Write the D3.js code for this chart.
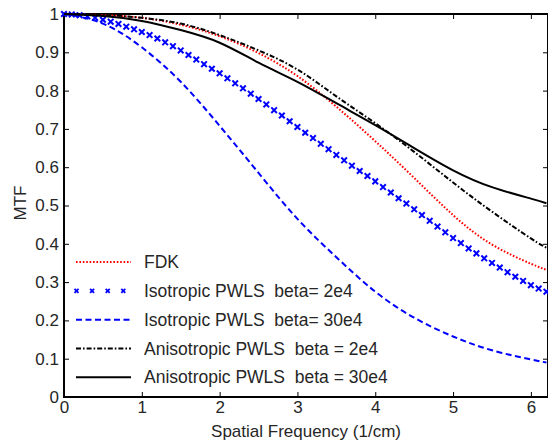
<!DOCTYPE html>
<html>
<head>
<meta charset="utf-8">
<script src="https://cdn.jsdelivr.net/npm/d3@7"></script>
<style>
  body { margin: 0; background: #fff; }
  text { font-family: "Liberation Sans", Arial, sans-serif; }
</style>
</head>
<body>
<div id="mtf_chart"></div>
<script>
// frequency samples for the line curves (1/cm)
const freq = [0, 0.5, 1, 1.5, 2, 2.5, 3, 3.5, 4, 4.5, 5, 5.5, 6, 6.2];

const fdk       = [1.000, 0.997, 0.990, 0.972, 0.942, 0.898, 0.838, 0.758, 0.668, 0.572, 0.475, 0.398, 0.348, 0.332];
const iso30e4   = [1.000, 0.975, 0.913, 0.823, 0.708, 0.585, 0.465, 0.365, 0.275, 0.207, 0.158, 0.122, 0.098, 0.090];
const aniso2e4  = [1.000, 0.998, 0.990, 0.975, 0.945, 0.905, 0.855, 0.785, 0.715, 0.640, 0.560, 0.484, 0.414, 0.390];
const aniso30e4 = [1.000, 0.995, 0.982, 0.958, 0.925, 0.873, 0.823, 0.767, 0.710, 0.650, 0.592, 0.548, 0.518, 0.506];

// isotropic beta=2e4 is drawn with markers only, one every 0.1
const markerFreq = [0.0, 0.1, 0.2, 0.3, 0.4, 0.5, 0.6, 0.7, 0.8, 0.9,
                    1.0, 1.1, 1.2, 1.3, 1.4, 1.5, 1.6, 1.7, 1.8, 1.9,
                    2.0, 2.1, 2.2, 2.3, 2.4, 2.5, 2.6, 2.7, 2.8, 2.9,
                    3.0, 3.1, 3.2, 3.3, 3.4, 3.5, 3.6, 3.7, 3.8, 3.9,
                    4.0, 4.1, 4.2, 4.3, 4.4, 4.5, 4.6, 4.7, 4.8, 4.9,
                    5.0, 5.1, 5.2, 5.3, 5.4, 5.5, 5.6, 5.7, 5.8, 5.9,
                    6.0, 6.1, 6.2];
const iso2e4 = [1.000, 0.999, 0.997, 0.994, 0.990, 0.985, 0.980, 0.974, 0.967, 0.960,
                0.953, 0.945, 0.936, 0.926, 0.916, 0.905, 0.893, 0.881, 0.869, 0.857,
                0.845, 0.832, 0.819, 0.806, 0.792, 0.778, 0.764, 0.749, 0.735, 0.720,
                0.705, 0.690, 0.676, 0.661, 0.647, 0.632, 0.618, 0.604, 0.590, 0.577,
                0.563, 0.548, 0.534, 0.519, 0.505, 0.490, 0.475, 0.460, 0.445, 0.430,
                0.415, 0.402, 0.388, 0.375, 0.362, 0.350, 0.338, 0.326, 0.314, 0.303,
                0.292, 0.283, 0.275];

const legendLabels = [
  "FDK",
  "Isotropic PWLS  beta= 2e4",
  "Isotropic PWLS  beta= 30e4",
  "Anisotropic PWLS  beta = 2e4",
  "Anisotropic PWLS  beta = 30e4"
];

const xTicks = [0, 1, 2, 3, 4, 5, 6];
const yTicks = [0, 0.1, 0.2, 0.3, 0.4, 0.5, 0.6, 0.7, 0.8, 0.9, 1];

function drawChart(){
  const width = 548, height = 445;
  const margin = {top: 14, right: 0, bottom: 48, left: 64};
  const visWidth = width - margin.left - margin.right;
  const visHeight = height - margin.top - margin.bottom;

  const x = d3.scaleLinear().domain([0, 6.22]).range([0, visWidth]);
  const y = d3.scaleLinear().domain([0, 1]).range([visHeight, 0]);

  const svg = d3.select("#mtf_chart").append("svg")
      .attr("width", width)
      .attr("height", height);

  const g = svg.append("g")
      .attr("transform", `translate(${margin.left}, ${margin.top})`);

  const textColor = "#262626";
  const fontSize = "17px";
  const tickLen = 5;

  // axes, ticks pointing inwards on all four sides
  const xAxis = d3.axisBottom(x).tickValues(xTicks).tickSizeInner(-tickLen).tickSizeOuter(0).tickPadding(4).tickFormat(d3.format("d"));
  const yAxis = d3.axisLeft(y).tickValues(yTicks).tickSizeInner(-tickLen).tickSizeOuter(0).tickPadding(5).tickFormat(d => d === 0 || d === 1 ? d : d3.format(".1f")(d));
  const xTop = d3.axisTop(x).tickValues(xTicks).tickSizeInner(-tickLen).tickSizeOuter(0).tickFormat("");
  const yRight = d3.axisRight(y).tickValues(yTicks).tickSizeInner(-tickLen).tickSizeOuter(0).tickFormat("");

  const styleAxis = sel => {
    sel.select(".domain").remove();
    sel.selectAll(".tick line").attr("stroke", "#000").attr("stroke-width", 1);
    sel.selectAll(".tick text").attr("fill", textColor).attr("font-size", fontSize)
       .attr("font-family", '"Liberation Sans", Arial, sans-serif');
  };

  g.append("g").attr("transform", `translate(0,${visHeight})`).call(xAxis).call(styleAxis);
  g.append("g").call(yAxis).call(styleAxis);
  g.append("g").call(xTop).call(styleAxis);
  g.append("g").attr("transform", `translate(${visWidth},0)`).call(yRight).call(styleAxis);

  // plot box
  g.append("rect")
      .attr("x", 0).attr("y", 0)
      .attr("width", visWidth).attr("height", visHeight)
      .attr("fill", "none")
      .attr("stroke", "#000")
      .attr("stroke-width", 2);

  const line = d3.line()
      .curve(d3.curveNatural)
      .x(d => x(d[0]))
      .y(d => y(d[1]));

  const styles = [
    {color: "#ff0000", width: 2, dash: "1.6,1.8"},
    {color: "#0000ff", width: 2, dash: null},
    {color: "#0000ff", width: 2, dash: "6,3.5"},
    {color: "#000000", width: 2, dash: "5,2,1.6,2"},
    {color: "#000000", width: 2, dash: null}
  ];

  const curves = [fdk, null, iso30e4, aniso2e4, aniso30e4];

  const plot = g.append("g");

  curves.forEach((vals, i) => {
    if (i === 1) {
      // cross markers
      const pts = markerFreq.map((f, k) => [f, iso2e4[k]]);
      plot.append("g")
        .selectAll("path")
        .data(pts)
        .join("path")
          .attr("d", d => {
            const cx = x(d[0]), cy = y(d[1]), r = 2.8;
            return `M${cx - r},${cy - r}L${cx + r},${cy + r}M${cx - r},${cy + r}L${cx + r},${cy - r}`;
          })
          .attr("stroke", styles[i].color)
          .attr("stroke-width", 2);
      return;
    }
    plot.append("path")
      .datum(freq.map((f, k) => [f, vals[k]]))
      .attr("d", line)
      .attr("fill", "none")
      .attr("stroke", styles[i].color)
      .attr("stroke-width", styles[i].width)
      .attr("stroke-dasharray", styles[i].dash);
  });

  // legend (no box)
  const legend = g.append("g").attr("transform", `translate(12, ${y(0.3) - 20})`);
  const rowGap = 28.8;
  legendLabels.forEach((label, i) => {
    const row = legend.append("g").attr("transform", `translate(0, ${i * rowGap})`);
    if (i === 1) {
      [0, 1, 2, 3].forEach(k => {
        const cx = 0.5 + k * 15.6, r = 2;
        row.append("path")
          .attr("d", `M${cx - r},${-r}L${cx + r},${r}M${cx - r},${r}L${cx + r},${-r}`)
          .attr("stroke", styles[i].color)
          .attr("stroke-width", 1.8);
      });
    } else {
      row.append("line")
        .attr("x1", 0).attr("x2", 55)
        .attr("y1", 0).attr("y2", 0)
        .attr("stroke", styles[i].color)
        .attr("stroke-width", styles[i].width)
        .attr("stroke-dasharray", styles[i].dash);
    }
    row.append("text")
      .attr("x", 68)
      .attr("y", 0)
      .attr("dy", "0.35em")
      .attr("fill", textColor)
      .attr("font-size", "17.5px")
      .style("white-space", "pre")
      .attr("xml:space", "preserve")
      .text(label);
  });

  // axis titles
  svg.append("text")
      .attr("x", 306)
      .attr("y", 437)
      .attr("text-anchor", "middle")
      .attr("fill", textColor)
      .attr("font-size", fontSize)
      .text("Spatial Frequency (1/cm)");

  svg.append("text")
      .attr("transform", "rotate(-90)")
      .attr("x", -203)
      .attr("y", 26)
      .attr("text-anchor", "middle")
      .attr("fill", textColor)
      .attr("font-size", fontSize)
      .text("MTF");
}

drawChart();
</script>
</body>
</html>
